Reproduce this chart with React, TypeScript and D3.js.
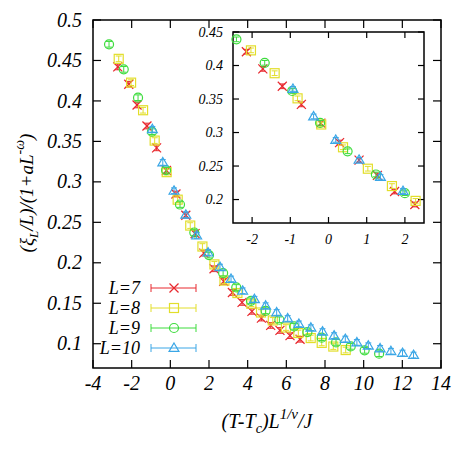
import React from 'react';
import * as d3 from 'd3';

// scaled data: x = (T-Tc)L^(1/nu)/J, y = (xi_L/L)/(1+aL^-omega)
const l7X = [-2.72, -2.15, -1.72, -1.21, -0.71, -0.2, 0.29, 0.8, 1.28, 1.73, 2.26, 2.76, 3.21, 3.71, 4.22, 4.71, 5.19, 5.67, 6.19, 6.71];
const l7Y = [0.442, 0.4206, 0.395, 0.369, 0.342, 0.314, 0.285, 0.2588, 0.236, 0.212, 0.1926, 0.177, 0.1633, 0.151, 0.14, 0.1317, 0.1226, 0.1164, 0.11, 0.1055];

const l8X = [-2.67, -2.03, -1.41, -0.81, -0.19, 0.38, 1.03, 1.66, 2.28, 2.8, 3.47, 4.19, 4.69, 5.3, 5.98, 6.62, 7.26, 7.83, 8.43, 9.07];
const l8Y = [0.452, 0.4226, 0.3885, 0.351, 0.312, 0.278, 0.246, 0.2201, 0.198, 0.178, 0.1626, 0.1494, 0.1386, 0.1288, 0.12, 0.1132, 0.107, 0.101, 0.0965, 0.0922];

const l9X = [-3.17, -2.41, -1.67, -0.95, -0.22, 0.5, 1.24, 2.0, 2.73, 3.41, 4.17, 4.93, 5.64, 6.4, 7.09, 7.83, 8.57, 9.33, 10.05, 10.8];
const l9Y = [0.47, 0.439, 0.404, 0.362, 0.3144, 0.272, 0.2374, 0.2095, 0.1873, 0.1695, 0.153, 0.1407, 0.1296, 0.1214, 0.1144, 0.1075, 0.1016, 0.0967, 0.0918, 0.0877];

const l10X = [-0.93, -0.39, 0.19, 0.8, 1.36, 1.95, 2.57, 3.14, 3.74, 4.35, 4.93, 5.5, 6.07, 6.65, 7.27, 7.87, 8.47, 9.05, 9.65, 10.24, 10.85, 11.41, 12.01, 12.58];
const l10Y = [0.365, 0.324, 0.289, 0.2593, 0.2337, 0.2127, 0.1947, 0.18, 0.1654, 0.155, 0.147, 0.1386, 0.1312, 0.1245, 0.1198, 0.115, 0.11, 0.1058, 0.1016, 0.0975, 0.0942, 0.0907, 0.0885, 0.086];

const errBar = 0.0035;

const series = [
  { label: 'L=7', xs: l7X, ys: l7Y, color: '#e8282e', marker: 'cross' },
  { label: 'L=8', xs: l8X, ys: l8Y, color: '#e2de2a', marker: 'square' },
  { label: 'L=9', xs: l9X, ys: l9Y, color: '#3ddc3d', marker: 'circle' },
  { label: 'L=10', xs: l10X, ys: l10Y, color: '#3aa6e6', marker: 'triangle' },
];

const mainXTicks = [-4, -2, 0, 2, 4, 6, 8, 10, 12, 14];
const mainYTicks = [0.1, 0.15, 0.2, 0.25, 0.3, 0.35, 0.4, 0.45, 0.5];
const insetXTicks = [-2, -1, 0, 1, 2];
const insetYTicks = [0.2, 0.25, 0.3, 0.35, 0.4, 0.45];

const FONT = '"Liberation Serif", "Times New Roman", serif';

function Marker({ type, x, y, color, s = 4.5 }) {
  if (type === 'cross') {
    return (
      <g stroke={color} strokeWidth={1.2}>
        <line x1={x - s} y1={y - s} x2={x + s} y2={y + s} />
        <line x1={x - s} y1={y + s} x2={x + s} y2={y - s} />
      </g>
    );
  }
  if (type === 'square') {
    return <rect x={x - s} y={y - s} width={2 * s} height={2 * s} fill="none" stroke={color} strokeWidth={1.2} />;
  }
  if (type === 'circle') {
    return <circle cx={x} cy={y} r={s} fill="none" stroke={color} strokeWidth={1.2} />;
  }
  const h = s * 1.1;
  return (
    <path
      d={`M${x},${y - h}L${x + s * 1.1},${y + h * 0.7}L${x - s * 1.1},${y + h * 0.7}Z`}
      fill="none"
      stroke={color}
      strokeWidth={1.2}
    />
  );
}

function Points({ xScale, yScale, clip }) {
  const [x0, x1] = xScale.domain();
  const [y0, y1] = yScale.domain();
  return (
    <g>
      {series.map((s) =>
        s.xs.map((xv, i) => {
          const yv = s.ys[i];
          if (clip && (xv < x0 || xv > x1 || yv < y0 || yv > y1)) return null;
          const px = xScale(xv);
          const py = yScale(yv);
          const ya = yScale(yv + errBar);
          const yb = yScale(yv - errBar);
          return (
            <g key={s.label + i}>
              <g stroke={s.color} strokeWidth={1}>
                <line x1={px} x2={px} y1={ya} y2={yb} />
                <line x1={px - 3} x2={px + 3} y1={ya} y2={ya} />
                <line x1={px - 3} x2={px + 3} y1={yb} y2={yb} />
              </g>
              <Marker type={s.marker} x={px} y={py} color={s.color} />
            </g>
          );
        })
      )}
    </g>
  );
}

function Frame({ xScale, yScale, xTicks, yTicks, tick, fontSize, xLabelDy, yLabelDx }) {
  const [l, r] = xScale.range();
  const [b, t] = yScale.range();
  const fmt = (v) => String(+v.toFixed(2));
  return (
    <g>
      <rect x={l} y={t} width={r - l} height={b - t} fill="white" stroke="black" strokeWidth={1.5} />
      {xTicks.map((v) => (
        <g key={'x' + v} stroke="black" strokeWidth={1.2}>
          <line x1={xScale(v)} x2={xScale(v)} y1={b} y2={b - tick} />
          <line x1={xScale(v)} x2={xScale(v)} y1={t} y2={t + tick} />
        </g>
      ))}
      {yTicks.map((v) => (
        <g key={'y' + v} stroke="black" strokeWidth={1.2}>
          <line x1={l} x2={l + tick} y1={yScale(v)} y2={yScale(v)} />
          <line x1={r} x2={r - tick} y1={yScale(v)} y2={yScale(v)} />
        </g>
      ))}
      <g style={{ fontFamily: FONT, fontStyle: 'italic', fontSize: fontSize }} fill="black">
        {xTicks.map((v) => (
          <text key={'xl' + v} x={xScale(v)} y={b + xLabelDy} textAnchor="middle">
            {fmt(v)}
          </text>
        ))}
        {yTicks.map((v) => (
          <text key={'yl' + v} x={l - yLabelDx} y={yScale(v) + fontSize * 0.33} textAnchor="end">
            {fmt(v)}
          </text>
        ))}
      </g>
    </g>
  );
}

export default function App() {
  const W = 467;
  const H = 449;

  const x = d3.scaleLinear().domain([-4, 14]).range([93, 441]);
  const y = d3.scaleLinear().domain([0.07, 0.5]).range([368, 20]);

  const ix = d3.scaleLinear().domain([-2.5, 2.5]).range([233, 424]);
  const iy = d3.scaleLinear().domain([0.165, 0.45]).range([223, 32]);

  const legendY0 = 288;
  const legendStep = 20;
  const titleStyle = { fontFamily: FONT, fontStyle: 'italic', fontSize: 20 };

  return (
    <svg width={W} height={H} style={{ position: 'absolute', left: 0, top: 0, background: 'white' }}>
      <Frame
        xScale={x}
        yScale={y}
        xTicks={mainXTicks}
        yTicks={mainYTicks}
        tick={8}
        fontSize={20}
        xLabelDy={22}
        yLabelDx={11}
      />
      <Points xScale={x} yScale={y} clip={false} />

      {/* legend */}
      <g style={{ fontFamily: FONT, fontStyle: 'italic', fontSize: 18 }}>
        {series.map((s, i) => {
          const ly = legendY0 + i * legendStep;
          return (
            <g key={s.label}>
              <text x={140} y={ly + 6} textAnchor="end">
                {s.label}
              </text>
              <g stroke={s.color} strokeWidth={1}>
                <line x1={151} x2={196} y1={ly} y2={ly} />
                <line x1={151} x2={151} y1={ly - 4} y2={ly + 4} />
                <line x1={196} x2={196} y1={ly - 4} y2={ly + 4} />
              </g>
              <Marker type={s.marker} x={174} y={ly} color={s.color} />
            </g>
          );
        })}
      </g>

      {/* inset */}
      <Frame
        xScale={ix}
        yScale={iy}
        xTicks={insetXTicks}
        yTicks={insetYTicks}
        tick={6}
        fontSize={14}
        xLabelDy={21}
        yLabelDx={10}
      />
      <Points xScale={ix} yScale={iy} clip={true} />

      {/* axis titles */}
      <text style={{ ...titleStyle, fontSize: 19 }} textAnchor="middle" transform="translate(33,193) rotate(-90)">
        (ξ<tspan style={{ fontSize: 13 }} dy={5}>L</tspan>
        <tspan dy={-5}>/L)/(1+aL</tspan>
        <tspan style={{ fontSize: 14 }} dy={-9}>-ω</tspan>
        <tspan dy={9}>)</tspan>
      </text>
      <text style={titleStyle} textAnchor="middle" x={267} y={428}>
        (T-T<tspan style={{ fontSize: 14 }} dy={5}>c</tspan>
        <tspan dy={-5}>)L</tspan>
        <tspan style={{ fontSize: 15 }} dy={-9}>1/ν</tspan>
        <tspan dy={9}>/J</tspan>
      </text>
    </svg>
  );
}
